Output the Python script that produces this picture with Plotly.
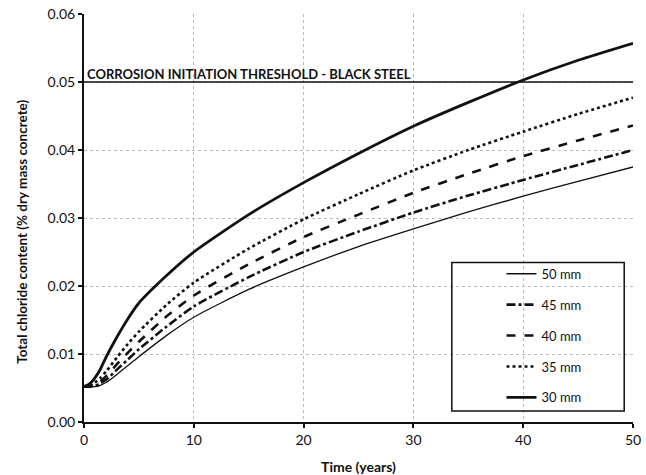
import plotly.graph_objects as go

years = [0, 0.5, 1, 1.5, 2, 3, 4, 5, 7.5, 10, 15, 20, 25, 30, 35, 40, 45, 50]
cover_50mm = [0.0052, 0.0052, 0.0052, 0.0054, 0.0058, 0.0070, 0.0083, 0.0096, 0.0127, 0.0154,
              0.0195, 0.0228, 0.0258, 0.0284, 0.0309, 0.0332, 0.0354, 0.0375]
cover_45mm = [0.0052, 0.0052, 0.0053, 0.0057, 0.0062, 0.0077, 0.0092, 0.0107, 0.0140, 0.0170,
              0.0213, 0.0250, 0.0280, 0.0308, 0.0333, 0.0356, 0.0378, 0.0400]
cover_40mm = [0.0052, 0.0052, 0.0055, 0.0060, 0.0067, 0.0085, 0.0102, 0.0118, 0.0155, 0.0186,
              0.0232, 0.0272, 0.0305, 0.0337, 0.0365, 0.0391, 0.0414, 0.0436]
cover_35mm = [0.0052, 0.0053, 0.0058, 0.0065, 0.0074, 0.0095, 0.0115, 0.0133, 0.0172, 0.0205,
              0.0255, 0.0298, 0.0335, 0.0370, 0.0400, 0.0427, 0.0453, 0.0477]
cover_30mm = [0.0052, 0.0056, 0.0065, 0.0078, 0.0095, 0.0125, 0.0152, 0.0175, 0.0215, 0.0250,
              0.0305, 0.0352, 0.0395, 0.0435, 0.0470, 0.0503, 0.0532, 0.0557]

threshold_x = [0, 50]
threshold_y = [0.05, 0.05]
threshold_label = "CORROSION INITIATION THRESHOLD - BLACK STEEL"
x_title = "Time (years)"
y_title = "Total chloride content (% dry mass concrete)"

series = [
    ("50 mm", cover_50mm, "solid", 1.3),
    ("45 mm", cover_45mm, "dashdot", 2.6),
    ("40 mm", cover_40mm, "dash", 2.6),
    ("35 mm", cover_35mm, "dot", 2.6),
    ("30 mm", cover_30mm, "solid", 2.8),
]

FONT = "Lato, 'Open Sans', sans-serif"

fig = go.Figure()
fig.add_trace(go.Scatter(x=threshold_x, y=threshold_y, mode="lines",
                         line=dict(color="#111", width=1.6), showlegend=False,
                         hoverinfo="skip"))
for i, (name, vals, dash, w) in enumerate(series):
    fig.add_trace(go.Scatter(x=years, y=vals, mode="lines", name=name,
                             legendgroup=f"g{i}",
                             line=dict(color="#111", width=w, dash=dash, shape="spline", smoothing=0.6)))

fig.add_annotation(x=0, y=0.05, xref="x", yref="y", text="<b>" + threshold_label + "</b>",
                   showarrow=False, xanchor="left", yanchor="bottom", xshift=1, yshift=-2,
                   font=dict(family=FONT, size=13, color="#111"))

# y-axis title (placed slightly below centre as in the original)
fig.add_annotation(x=-0.113, y=0.466, xref="paper", yref="paper", text="<b>" + y_title + "</b>",
                   showarrow=False, textangle=-90, xanchor="center", yanchor="middle",
                   font=dict(family=FONT, size=13.5, color="#111"))

# legend frame
fig.add_shape(type="rect", xref="paper", yref="paper", x0=0.670, x1=0.984, y0=0.027, y1=0.391,
              line=dict(color="#111", width=1.5), fillcolor="rgba(0,0,0,0)")

fig.update_layout(
    width=646, height=475,
    margin=dict(l=84, r=13, t=14, b=53),
    paper_bgcolor="white", plot_bgcolor="white",
    font=dict(family=FONT, size=14, color="#111"),
    legend=dict(x=0.7605, y=0.400, xanchor="left", yanchor="top",
                bgcolor="rgba(0,0,0,0)", borderwidth=0, tracegroupgap=11,
                font=dict(family=FONT, size=13, color="#111")),
    xaxis=dict(range=[0, 50], tickvals=[0, 10, 20, 30, 40, 50], automargin=False,
               showline=True, linecolor="#111", linewidth=2,
               ticks="outside", ticklen=4, tickcolor="#111", tickwidth=1.5,
               showgrid=True, gridcolor="#bbb", griddash="dot", gridwidth=1,
               zeroline=False,
               title=dict(text="<b>" + x_title + "</b>", font=dict(family=FONT, size=14), standoff=15),
               tickfont=dict(family=FONT, size=14)),
    yaxis=dict(range=[0, 0.06], tickvals=[0, 0.01, 0.02, 0.03, 0.04, 0.05, 0.06], automargin=False,
               tickformat=".2f",
               showline=True, linecolor="#111", linewidth=2,
               ticks="outside", ticklen=4, tickcolor="#111", tickwidth=1.5,
               showgrid=True, gridcolor="#bbb", griddash="dot", gridwidth=1,
               zeroline=False,
               tickfont=dict(family=FONT, size=14)),
)

fig.write_html("out.html")
